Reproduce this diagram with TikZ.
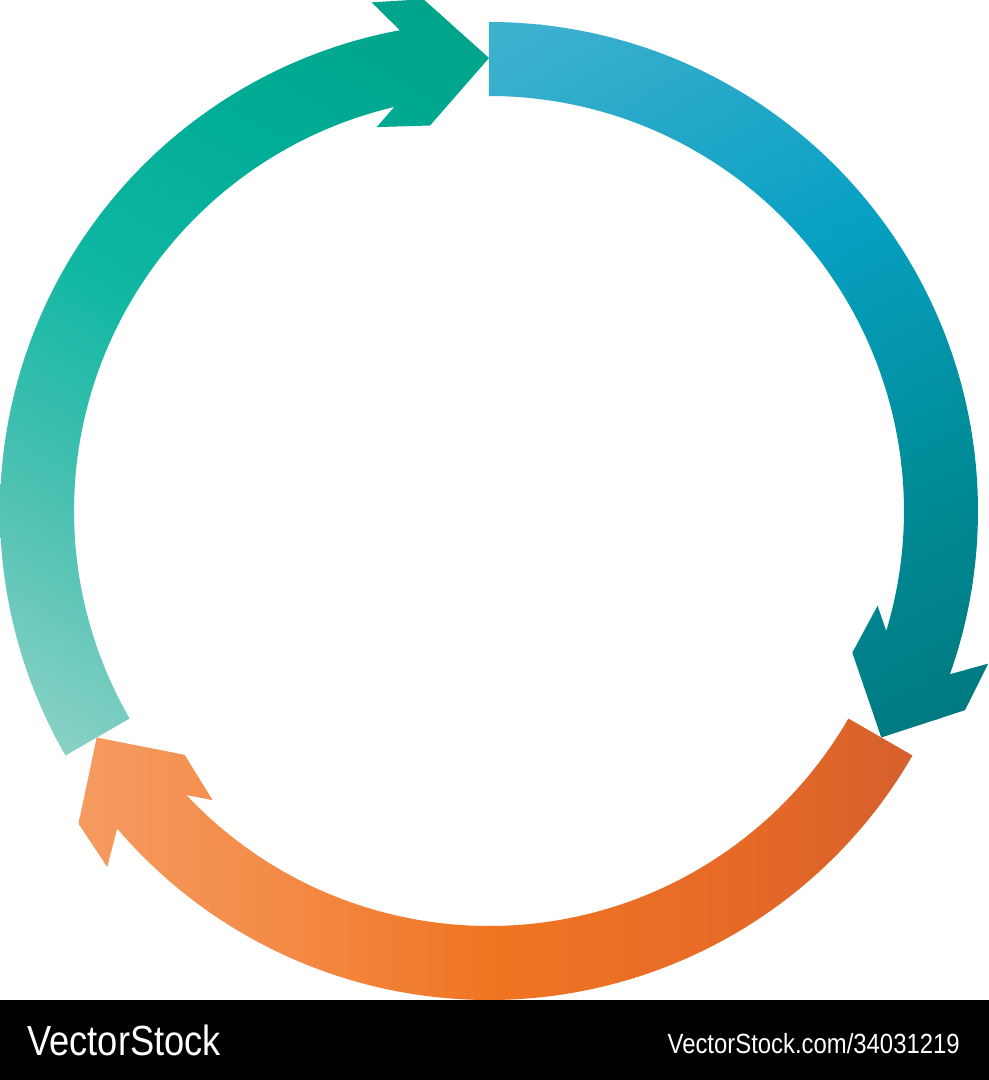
\documentclass[tikz,border=0pt]{standalone}
\usepackage{fontspec}
\setmainfont{Liberation Sans}
\definecolor{bA}{HTML}{3DB0CE}
\definecolor{bB}{HTML}{08A0C3}
\definecolor{bC}{HTML}{008E9B}
\definecolor{bD}{HTML}{007A80}
\definecolor{gA}{HTML}{00A48A}
\definecolor{gB}{HTML}{00AD96}
\definecolor{gC}{HTML}{10B7A3}
\definecolor{gD}{HTML}{4CC1B2}
\definecolor{gE}{HTML}{8AD2C5}
\definecolor{oA}{HTML}{F59B60}
\definecolor{oB}{HTML}{F38A45}
\definecolor{oC}{HTML}{F07522}
\definecolor{oD}{HTML}{E66A27}
\definecolor{oE}{HTML}{D65F2C}
% vertical band: from y=#1 (colour #3) to y=#2 (colour #4)
\newcommand{\myvband}[4]{\shade[bottom color=#3, top color=#4] (-800,#1) rectangle (800,#2);}
% horizontal band: from x=#1 (colour #3) to x=#2 (colour #4)
\newcommand{\myhband}[4]{\shade[left color=#3, right color=#4] (#1,-800) rectangle (#2,800);}
\begin{document}
\begin{tikzpicture}[x=0.02cm,y=0.02cm,
  footer/.style={text=white,inner sep=0pt}]
\useasboundingbox (-489,511) rectangle (500,-569);
\fill[white] (-489,511) rectangle (500,-569);
% green arrow (left, pointing to top)
\begin{scope}
\clip (210:489) arc[start angle=210, end angle=100.5, radius=489]
 -- (103:522) -- (97.3:516) -- (90:453) -- (98.7:390) -- (106.3:400) -- (103.2:415)
 arc[start angle=103.2, end angle=210, radius=415] -- cycle;
\begin{scope}[transform canvas={rotate=-31}]
\fill[gE] (-800,-800) rectangle (800,-429);
\myvband{-430}{-219}{gE}{gD}
\myvband{-220}{1}{gD}{gC}
\myvband{0}{201}{gC}{gB}
\myvband{200}{401}{gB}{gA}
\fill[gA] (-800,400) rectangle (800,800);
\end{scope}
\end{scope}
% blue arrow (right, pointing to bottom right)
\begin{scope}
\clip (90:489) arc[start angle=90, end angle=-19.5, radius=489]
 -- (-17:522) -- (-22.7:516) -- (-30:453) -- (-21.3:390) -- (-13.7:400) -- (-16.8:415)
 arc[start angle=-16.8, end angle=90, radius=415] -- cycle;
\begin{scope}[transform canvas={rotate=29}]
\fill[bD] (-800,-800) rectangle (800,-399);
\myvband{-400}{-159}{bD}{bC}
\myvband{-160}{81}{bC}{bB}
\myvband{80}{401}{bB}{bA}
\fill[bA] (-800,400) rectangle (800,800);
\end{scope}
\end{scope}
% orange arrow (bottom, pointing to bottom left)
\begin{scope}
\clip (330:489) arc[start angle=330, end angle=220.5, radius=489]
 -- (223:522) -- (217.3:516) -- (210:453) -- (218.7:390) -- (226.3:400) -- (223.2:415)
 arc[start angle=223.2, end angle=330, radius=415] -- cycle;
\fill[oA] (-800,-800) rectangle (-409,800);
\myhband{-410}{-199}{oA}{oB}
\myhband{-200}{1}{oB}{oC}
\myhband{0}{251}{oC}{oD}
\myhband{250}{431}{oD}{oE}
\fill[oE] (430,-800) rectangle (800,800);
\end{scope}
% footer bar
\fill[black] (-489,-489) rectangle (500,-569);
\node[footer,anchor=base west,font=\fontsize{24}{26}\selectfont] (brand) at (-462,-544) {\scalebox{0.86}[1]{VectorStock}};
\node[footer,anchor=base east,font=\fontsize{15.8}{18}\selectfont] (ref) at (471,-542) {\scalebox{0.86}[1]{VectorStock.com/34031219}};
\end{tikzpicture}
\end{document}
